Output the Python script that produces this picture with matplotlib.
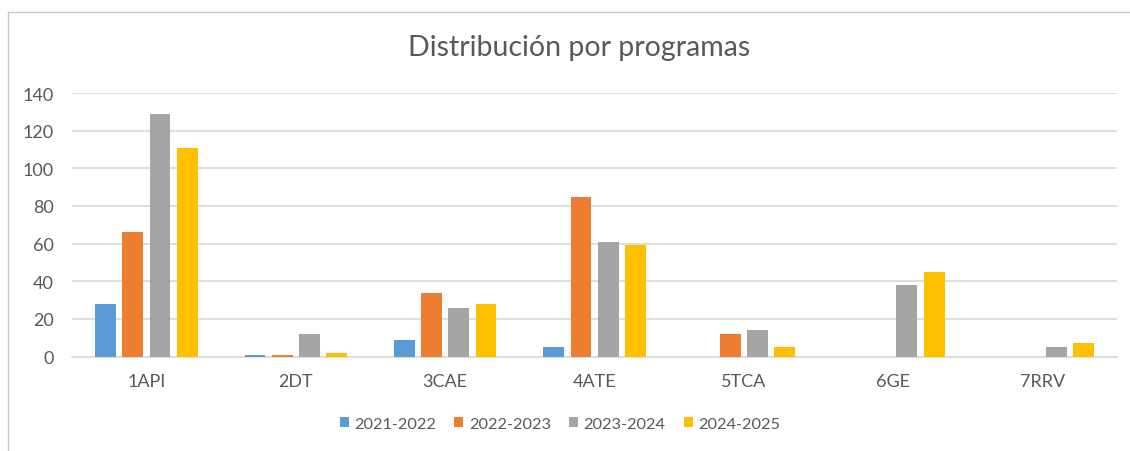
import numpy as np
import matplotlib
matplotlib.use("Agg")
import matplotlib.pyplot as plt
from matplotlib.patches import Rectangle

# chart data
programas = ["1API", "2DT", "3CAE", "4ATE", "5TCA", "6GE", "7RRV"]
cursos = ["2021-2022", "2022-2023", "2023-2024", "2024-2025"]
v_2021_2022 = [28, 1, 9, 5, 0, 0, 0]
v_2022_2023 = [66, 1, 34, 85, 12, 0, 0]
v_2023_2024 = [129, 12, 26, 61, 14, 38, 5]
v_2024_2025 = [111, 2, 28, 59, 5, 45, 7]
colores = ["#5B9BD5", "#ED7D31", "#A5A5A5", "#FFC000"]

TEXT = "#595959"
GRID = "#D9D9D9"

plt.rcParams["font.family"] = ["Lato", "DejaVu Sans"]

fig = plt.figure(figsize=(11.3, 4.52), dpi=100)
ax = fig.add_axes([0.0635, 0.209, 0.9253, 0.583])

# outer chart frame (only top/left visible in the crop)
fig.patches.append(Rectangle((8 / 1130, -0.1), 1.2, 1.1 - 12.5 / 452,
                             transform=fig.transFigure, fill=False,
                             edgecolor="#C8C8C8", linewidth=1.0))

x = np.arange(len(programas))
series = [v_2021_2022, v_2022_2023, v_2023_2024, v_2024_2025]
step = 0.182
width = 0.14
for i, (vals, col, lab) in enumerate(zip(series, colores, cursos)):
    ax.bar(x + (i - 1.5) * step, vals, width=width, color=col, label=lab, zorder=3)

ax.set_xlim(-0.5, len(programas) - 0.5)
ax.set_ylim(0, 140)
ax.set_yticks(range(0, 141, 20))
ax.set_xticks(x)
ax.set_xticklabels(programas)
ax.yaxis.grid(True, color=GRID, linewidth=1.2, zorder=0)
ax.set_axisbelow(True)

for s in ["top", "right", "left"]:
    ax.spines[s].set_visible(False)
ax.spines["bottom"].set_color(GRID)
ax.spines["bottom"].set_linewidth(1.2)

ax.tick_params(axis="both", length=0, colors=TEXT, labelsize=13)
ax.tick_params(axis="x", pad=12)
ax.tick_params(axis="y", pad=13)

fig.text(0.5125, 1 - 48 / 452, "Distribución por programas", ha="center", va="center",
         fontsize=20.5, color=TEXT)

leg = fig.legend(loc="center", bbox_to_anchor=(560 / 1130, 1 - 425 / 452), ncol=4,
                 frameon=False, fontsize=11.8, handlelength=0.55, handleheight=0.6,
                 handletextpad=0.35, columnspacing=1.1, labelcolor=TEXT)

fig.savefig("out.png", dpi=100, facecolor="white")
